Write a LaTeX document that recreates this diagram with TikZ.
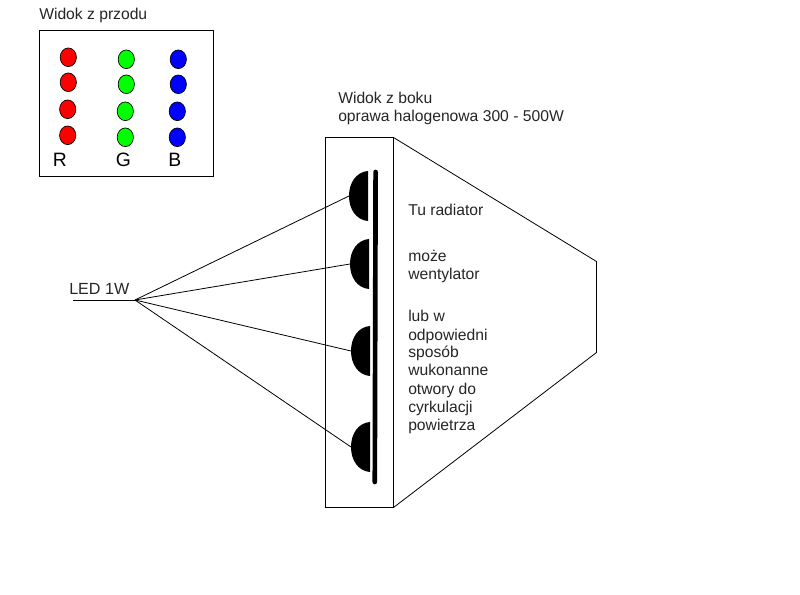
\documentclass[tikz,border=0pt]{standalone}
\usepackage{fontspec}
\setmainfont{Liberation Sans}
\usetikzlibrary{shapes.geometric}
\tikzset{
  x=0.75pt, y=-0.75pt,
  frame/.style={draw=black, line width=0.65pt},
  thin line/.style={draw=black, line width=0.6pt},
  label text/.style={anchor=base west, inner sep=0pt, font=\fontsize{11.75pt}{14pt}\selectfont, text=black!85},
  channel/.style={anchor=base west, inner sep=0pt, font=\fontsize{14.5pt}{17pt}\selectfont, text=black},
  dome/.style={fill=black, draw=none},
}
% one LED in the front view: #1 name, #2 position, #3 colour
\newcommand{\frontled}[3]{\node[ellipse, draw=black, line width=0.5pt, fill=#3, minimum width=12.2pt, minimum height=14pt, inner sep=0pt] (#1) at #2 {};}
% one LED in the side view: flat side on the right, #1 name of its left tip, #2 left tip x, #3 top y
\newcommand{\sideled}[3]{%
  \coordinate (#1) at (#2,#3+25);
  \fill[dome] (#2+19,#3) .. controls (#2+7,#3+1) and (#2,#3+12) .. (#2,#3+25)
     .. controls (#2,#3+38) and (#2+7,#3+49) .. (#2+19,#3+50) -- cycle;}
\begin{document}
\begin{tikzpicture}
\useasboundingbox (0,0) rectangle (800,595);
\fill[white] (0,0) rectangle (800,595);

% front view
\node[label text] (front) at (39,20) {Widok z przodu};
\draw[frame] (39.5,30.5) rectangle (213.5,176.5);
\frontled{r1}{(68.3,57.3)}{red}
\frontled{r2}{(68.3,82.3)}{red}
\frontled{r3}{(67.7,109.3)}{red}
\frontled{r4}{(67.7,135.3)}{red}
\frontled{g1}{(126.3,59.3)}{green}
\frontled{g2}{(126.3,84.3)}{green}
\frontled{g3}{(125.3,111.3)}{green}
\frontled{g4}{(125.3,137.3)}{green}
\frontled{b1}{(178.3,59.3)}{blue}
\frontled{b2}{(178.3,84.3)}{blue}
\frontled{b3}{(177.3,111.3)}{blue}
\frontled{b4}{(177.3,137.3)}{blue}
\node[channel] (chR) at (52.5,166.5) {R};
\node[channel] (chG) at (115.5,166.5) {G};
\node[channel] (chB) at (168,166.5) {B};

% side view: housing and reflector outline
\node[label text] (side1) at (338,104) {Widok z boku};
\node[label text] (side2) at (338,122) {oprawa halogenowa 300 - 500W};
\draw[frame] (325.5,137.5) rectangle (393.5,507.5);
\coordinate (ct) at (393.5,137.5);
\coordinate (cb) at (393.5,507.5);
\coordinate (rt) at (596.5,261.5);
\coordinate (rb) at (596.5,352.5);
\draw[thin line, line join=round] (ct) -- (rt) -- (rb) -- (cb);

% heat sink bar and LEDs
\coordinate (bt) at (375.6,172);
\coordinate (bb) at (374.8,482);
\draw[black, line width=3.5pt, line cap=round] (bt) -- (bb);
\sideled{d1}{349}{171}
\sideled{d2}{350}{239}
\sideled{d3}{351}{326}
\sideled{d4}{351}{422}

% leader
\node[label text, font=\fontsize{12.1pt}{14pt}\selectfont] (led) at (69,295) {LED 1W};
\coordinate (hub) at (135,300);
\coordinate (tail) at (73,300);
\draw[thin line] (tail) -- (hub);
\draw[thin line] (hub) -- (d1);
\draw[thin line] (hub) -- (d2);
\draw[thin line] (hub) -- (d3);
\draw[thin line] (hub) -- (d4);

% remarks
\node[label text] (n1) at (408,216) {Tu radiator};
\node[label text] (n2) at (408,262) {może};
\node[label text] (n3) at (408,280) {wentylator};
\node[label text] (n4) at (408,322) {lub w};
\node[label text] (n5) at (408,340) {odpowiedni};
\node[label text] (n6) at (408,358) {sposób};
\node[label text] (n7) at (408,376) {wukonanne};
\node[label text] (n8) at (408,394) {otwory do};
\node[label text] (n9) at (408,412) {cyrkulacji};
\node[label text] (n10) at (408,430) {powietrza};
\end{tikzpicture}
\end{document}
